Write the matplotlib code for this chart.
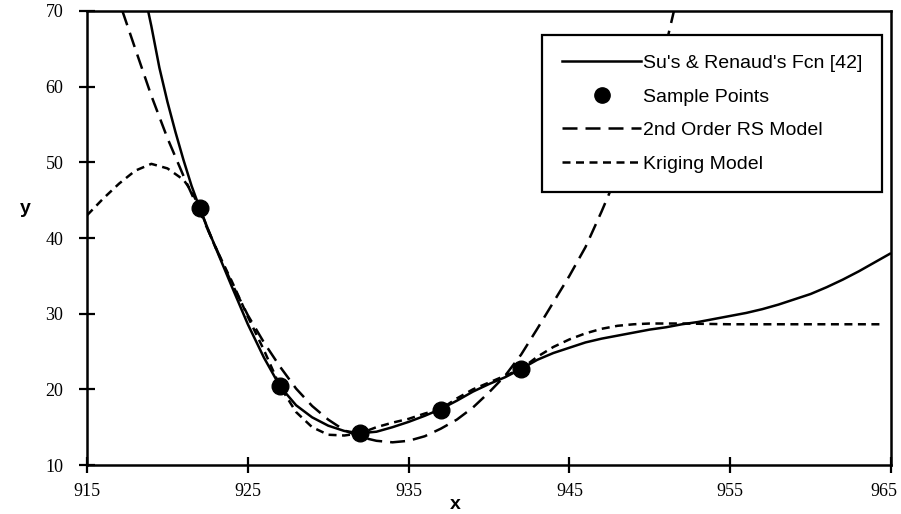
import matplotlib
matplotlib.use("Agg")
import matplotlib.pyplot as plt
import matplotlib.transforms as mtransforms
from matplotlib.lines import Line2D

# Su's & Renaud's function (solid)
fcn_x = [918.8, 919.0, 919.5, 920.0, 920.5, 921.0, 921.5, 922.0, 922.5, 923.0, 924.0,
         925.0, 926.0, 927.0, 928.0, 929.0, 930.0, 931.0, 932.0, 933.0, 934.0, 935.0,
         936.0, 937.0, 938.0, 939.0, 940.0, 941.0, 942.0, 943.0, 944.0, 945.0, 946.0,
         947.0, 948.0, 949.0, 950.0, 951.0, 952.0, 953.0, 954.0, 955.0, 956.0, 957.0,
         958.0, 959.0, 960.0, 961.0, 962.0, 963.0, 964.0, 965.0]
fcn_y = [70.0, 68.0, 62.5, 58.0, 54.0, 50.3, 46.9, 44.0, 41.3, 38.7, 33.6,
         28.6, 24.2, 20.4, 17.9, 16.3, 15.2, 14.5, 14.2, 14.4, 15.0, 15.7,
         16.5, 17.4, 18.5, 19.7, 20.7, 21.6, 22.7, 23.9, 24.8, 25.5, 26.2,
         26.7, 27.1, 27.5, 27.9, 28.2, 28.6, 28.9, 29.3, 29.7, 30.1, 30.6,
         31.2, 31.9, 32.6, 33.5, 34.5, 35.6, 36.8, 38.0]

# sample points
sample_x = [922, 927, 932, 937, 942]
sample_y = [44.0, 20.4, 14.2, 17.3, 22.7]

# 2nd order RS model (long dashes)
rs_x = [917.2, 918.0, 919.0, 920.0, 921.0, 922.0, 923.0, 924.0, 925.0, 926.0, 927.0,
        928.0, 929.0, 930.0, 931.0, 932.0, 933.0, 934.0, 935.0, 936.0, 937.0, 938.0,
        939.0, 940.0, 941.0, 942.0, 943.0, 944.0, 945.0, 946.0, 947.0, 948.0, 949.0,
        950.0, 951.0, 951.5]
rs_y = [70.0, 65.0, 58.8, 53.2, 48.2, 43.5, 38.8, 34.0, 29.8, 26.2, 23.0,
        20.1, 17.8, 16.0, 14.6, 13.7, 13.2, 13.0, 13.2, 13.8, 14.8, 16.0,
        17.6, 19.6, 21.8, 24.6, 28.0, 31.5, 35.0, 38.8, 43.5, 48.5, 53.8,
        59.3, 65.5, 70.0]

# Kriging model (short dashes)
krig_x = [915.0, 916.0, 917.0, 918.0, 919.0, 920.0, 921.0, 921.5, 922.0, 922.5, 923.0,
          924.0, 925.0, 926.0, 927.0, 928.0, 929.0, 930.0, 931.0, 932.0, 933.0, 934.0,
          935.0, 936.0, 937.0, 938.0, 939.0, 940.0, 941.0, 942.0, 943.0, 944.0, 945.0,
          946.0, 947.0, 948.0, 949.0, 950.0, 952.0, 955.0, 960.0, 964.5]
krig_y = [43.0, 45.2, 47.2, 48.9, 49.8, 49.2, 47.7, 46.2, 44.0, 41.2, 38.7,
          34.3, 29.6, 25.2, 20.4, 17.0, 15.0, 14.0, 13.9, 14.2, 15.0, 15.6,
          16.1, 16.8, 17.4, 18.8, 20.0, 20.9, 21.8, 22.7, 24.3, 25.6, 26.6,
          27.4, 28.0, 28.4, 28.6, 28.7, 28.7, 28.6, 28.6, 28.6]

x_ticks = [915, 925, 935, 945, 955, 965]
y_ticks = [10, 20, 30, 40, 50, 60, 70]

fig = plt.figure(figsize=(9.01, 5.14), dpi=100)
ax = fig.add_axes([0.0966, 0.0953, 0.8923, 0.8833])

lw = 1.8
ax.plot(fcn_x, fcn_y, color='black', lw=lw, solid_capstyle='butt')
ax.plot(rs_x, rs_y, color='black', lw=lw, linestyle=(0, (6, 3.2)))
ax.plot(krig_x, krig_y, color='black', lw=lw, linestyle=(0, (3.2, 2.2)))
ax.plot(sample_x, sample_y, 'o', color='black', markersize=12, zorder=5)

ax.set_xlim(915, 965)
ax.set_ylim(10, 70)
ax.set_xticks(x_ticks)
ax.set_yticks(y_ticks)
ax.tick_params(direction='inout', length=12, width=1.6, top=False, right=False,
               labelsize=13, pad=7)
ax.tick_params(axis='y', pad=11)
for lab in ax.get_xticklabels() + ax.get_yticklabels():
    lab.set_fontfamily('Liberation Serif')
# the last x label sits a little inside the edge, as in the original
last = ax.get_xticklabels()[-1]
last.set_transform(last.get_transform() +
                   mtransforms.ScaledTranslation(-7 / 100, 0, fig.dpi_scale_trans))
for sp in ax.spines.values():
    sp.set_linewidth(1.8)

ax.set_xlabel('x', fontsize=14, fontweight='bold', family='Liberation Sans', va='center')
ax.xaxis.set_label_coords(0.458, -0.088)
ax.set_ylabel('y', fontsize=14, fontweight='bold', family='Liberation Sans',
              rotation=0, va='center', ha='center')
ax.yaxis.set_label_coords(-0.077, 0.566)

handles = [
    Line2D([0], [0], color='black', lw=lw),
    Line2D([0], [0], marker='o', color='black', linestyle='none', markersize=11),
    Line2D([0], [0], color='black', lw=lw, linestyle=(0, (6, 3.2))),
    Line2D([0], [0], color='black', lw=lw, linestyle=(0, (3.2, 2.2))),
]
labels = ["Su's & Renaud's Fcn [42]", 'Sample Points', '2nd Order RS Model', 'Kriging Model']
leg = ax.legend(handles, labels, loc='upper right', bbox_to_anchor=(0.989, 0.947),
                prop={'family': 'Liberation Sans', 'size': 14},
                handlelength=4.1, handletextpad=0.1, labelspacing=0.82,
                borderpad=1.0, borderaxespad=0, fancybox=False, framealpha=1,
                edgecolor='black')
leg.get_frame().set_linewidth(1.6)
leg.set_zorder(10)

fig.savefig('out.png', dpi=100)
